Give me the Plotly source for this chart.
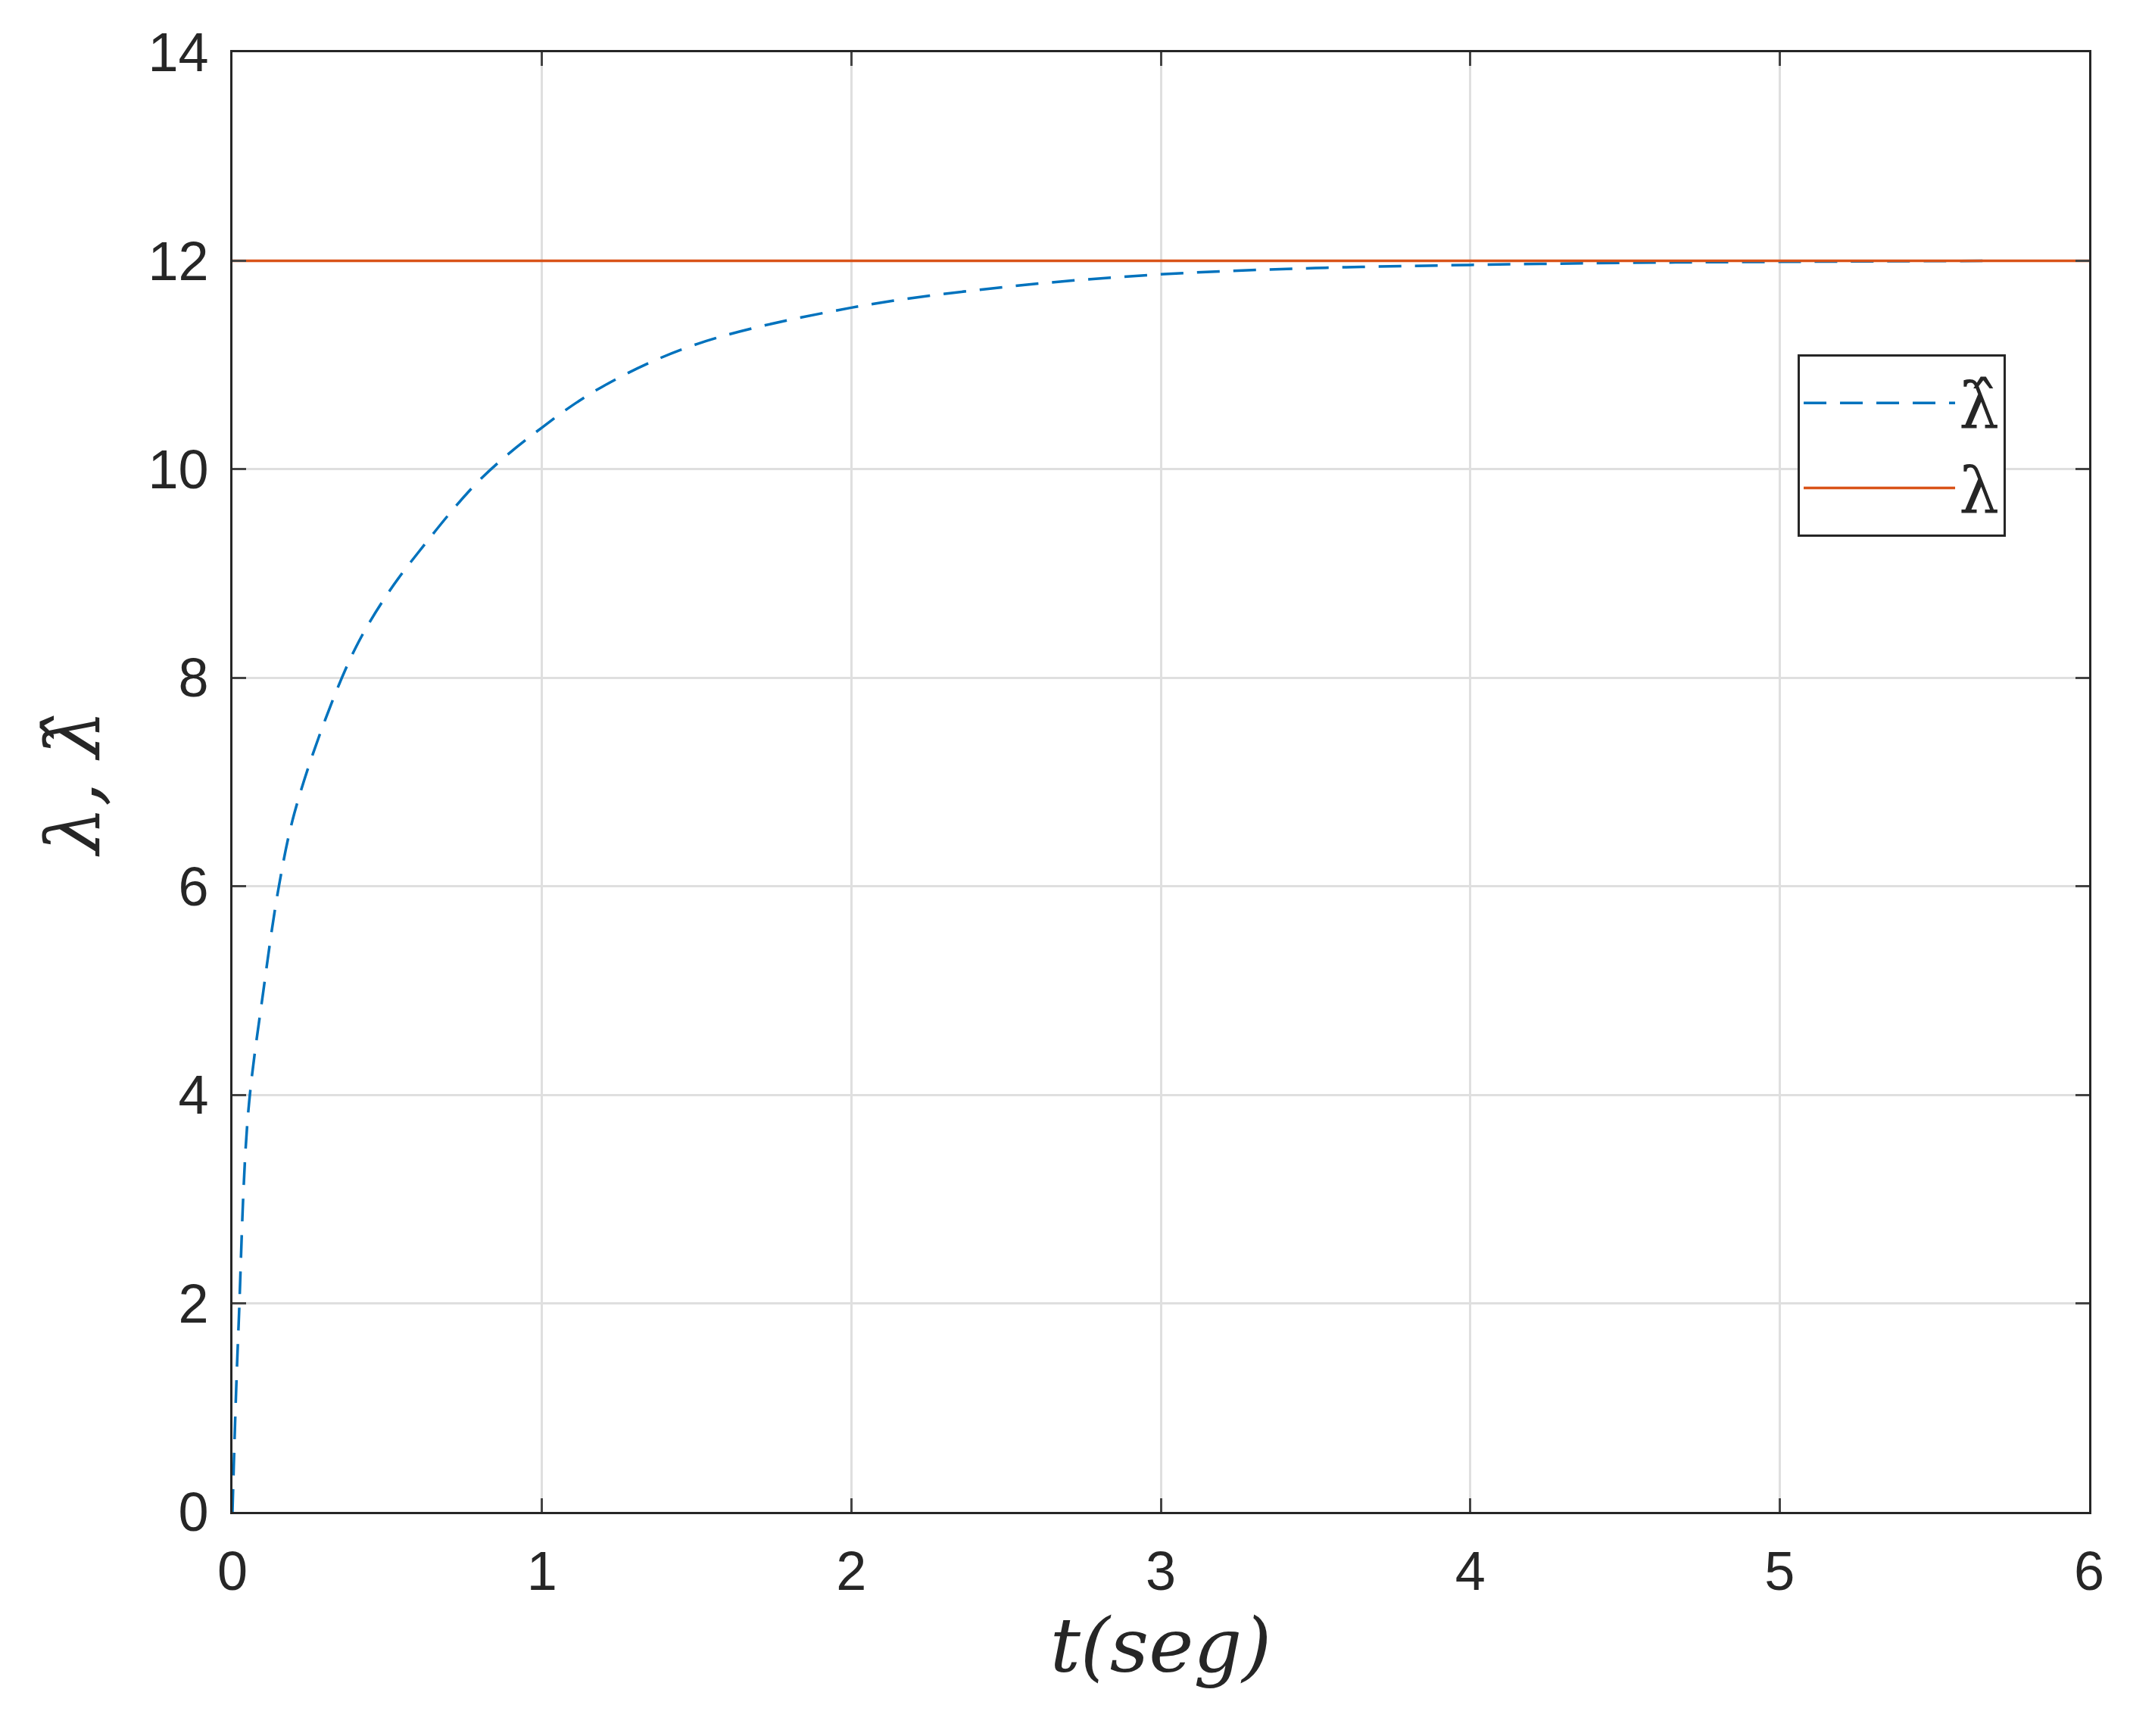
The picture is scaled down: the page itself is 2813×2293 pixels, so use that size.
import plotly.graph_objects as go

t_hat = [0,0.01,0.02,0.05,0.1,0.15,0.2,0.3,0.4,0.5,0.6,0.8,1.0,1.2,1.5,2.0,2.5,3.0,3.5,4.0,4.5,5.0,5.7]
lam_hat = [0,1.0,1.8,3.8,5.0,6.0,6.7,7.6,8.3,8.8,9.2,9.9,10.4,10.8,11.2,11.55,11.75,11.87,11.93,11.96,11.98,11.99,12.0]
t_true = [0,6]
lam_true = [12,12]

fig = go.Figure()
fig.add_trace(go.Scatter(x=t_hat, y=lam_hat, mode="lines", name="λ̂", line=dict(color="#0072BD", width=3.5, dash="30px,18px", shape="spline")))
fig.add_trace(go.Scatter(x=t_true, y=lam_true, mode="lines", name="λ", line=dict(color="#D95319", width=3.5)))

ax = dict(showline=True, linecolor="#262626", linewidth=3, mirror="ticks", ticks="inside", ticklen=18,
          tickwidth=3, gridcolor="#DFDFDF", gridwidth=3, zeroline=False, ticklabelstandoff=14,
          tickfont=dict(family="Liberation Sans", size=72, color="#262626"))
fig.update_xaxes(range=[0,6], dtick=1, title=dict(text="<i>t(seg)</i>", font=dict(family="DejaVu Serif", size=100, color="#262626"), standoff=20), **ax)
fig.update_yaxes(range=[0,14], dtick=2, title=dict(text="<i>λ, λ̂</i>", font=dict(family="DejaVu Serif", size=100, color="#262626"), standoff=30), **ax)
fig.update_layout(width=2813, height=2293, plot_bgcolor="white", paper_bgcolor="white",
                  margin=dict(l=299, r=62, t=61, b=304),
                  showlegend=True,
                  legend=dict(x=0.843, y=0.793, xanchor="left", yanchor="top", bordercolor="#262626", borderwidth=3,
                              bgcolor="white", font=dict(family="DejaVu Serif", size=84, color="#262626"),
                              itemwidth=200, tracegroupgap=0))
fig.write_html("out.html")
